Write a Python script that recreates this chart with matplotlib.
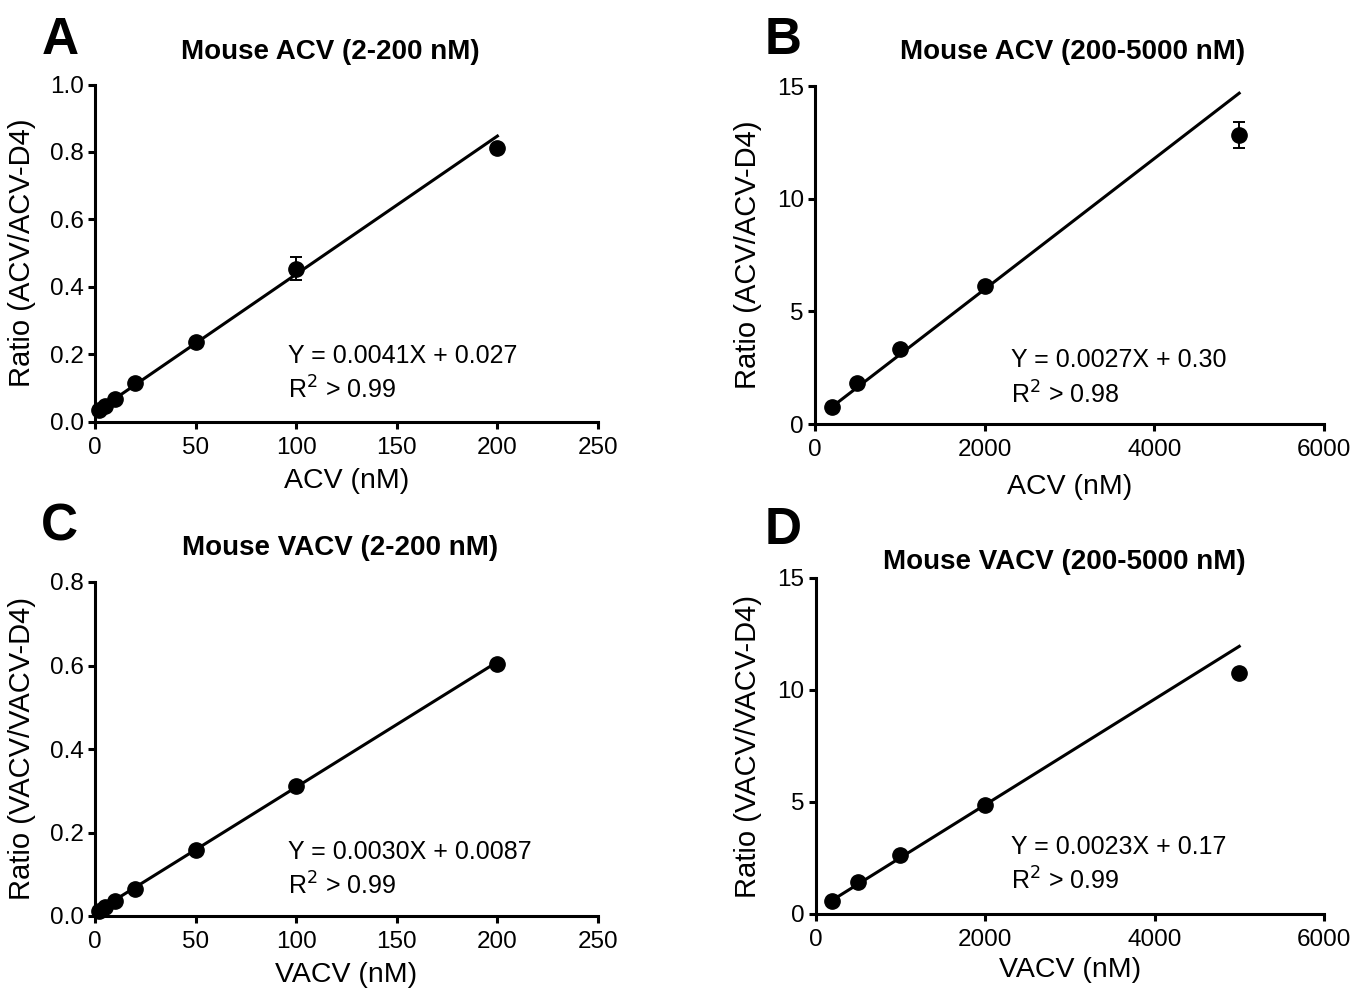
import matplotlib
matplotlib.use("Agg")
import matplotlib.pyplot as plt
import numpy as np

# Lettertype (Arial-metriek)
plt.rcParams['font.family'] = ['Liberation Sans', 'DejaVu Sans']

# Data: lage concentraties (2-200 nM)
conc_low = [2, 5, 10, 20, 50, 100, 200]
acv_low = [0.034, 0.046, 0.068, 0.115, 0.235, 0.454, 0.812]
acv_low_err = [0, 0, 0, 0, 0, 0.035, 0]
vacv_low = [0.012, 0.022, 0.036, 0.065, 0.158, 0.311, 0.604]

# Data: hoge concentraties (200-5000 nM)
conc_high = [200, 500, 1000, 2000, 5000]
acv_high = [0.76, 1.80, 3.32, 6.13, 12.83]
acv_high_err = [0, 0, 0, 0, 0.59]
vacv_high = [0.59, 1.41, 2.64, 4.88, 10.75]

# Regressielijnen zoals getekend (helling, intercept)
fit_a = (0.0041, 0.027)
fit_b = (0.0029, 0.18)
fit_c = (0.0030, 0.0087)
fit_d = (0.00236, 0.15)

titles = ["Mouse ACV (2-200 nM)", "Mouse ACV (200-5000 nM)",
          "Mouse VACV (2-200 nM)", "Mouse VACV (200-5000 nM)"]
letters = ["A", "B", "C", "D"]
xlabels = ["ACV (nM)", "ACV (nM)", "VACV (nM)", "VACV (nM)"]
ylabels = ["Ratio (ACV/ACV-D4)", "Ratio (ACV/ACV-D4)",
           "Ratio (VACV/VACV-D4)", "Ratio (VACV/VACV-D4)"]
equations = ["Y = 0.0041X + 0.027", "Y = 0.0027X + 0.30",
             "Y = 0.0030X + 0.0087", "Y = 0.0023X + 0.17"]
r2_labels = ["R$^2$ > 0.99", "R$^2$ > 0.98", "R$^2$ > 0.99", "R$^2$ > 0.99"]

W, H = 1353, 992
fig = plt.figure(figsize=(W / 100, H / 100), dpi=100)

# Asposities in pixels: links, rechts, boven, onder
boxes = [(95, 598, 84.5, 421.5), (815, 1324, 86, 424),
         (95, 598, 582, 916), (815.5, 1324, 578, 914)]

panels = [
    (conc_low, acv_low, acv_low_err, fit_a, (0, 250), (0, 1.0),
     np.arange(0, 251, 50), np.arange(0, 1.01, 0.2), "%.1f"),
    (conc_high, acv_high, acv_high_err, fit_b, (0, 6000), (0, 15),
     np.arange(0, 6001, 2000), np.arange(0, 16, 5), "%d"),
    (conc_low, vacv_low, None, fit_c, (0, 250), (0, 0.8),
     np.arange(0, 251, 50), np.arange(0, 0.81, 0.2), "%.1f"),
    (conc_high, vacv_high, None, fit_d, (0, 6000), (0, 15),
     np.arange(0, 6001, 2000), np.arange(0, 16, 5), "%d"),
]

# Positie van teksten (pixels)
title_pos = [(330, 52), (1073, 52), (340, 548), (1064, 562)]
letter_pos = [(60, 40), (783, 40), (59, 527), (783, 530)]
eq_pos = [(288, 356), (1011, 360), (288, 852), (1011, 847)]
r2_pos = [(288, 390), (1011, 395), (288, 886), (1011, 881)]
ylab_x = [22, 748, 22, 748]
xlab_y = [481, 487, 975, 970]

lw = 2.2
for i, (xs, ys, err, fit, xlim, ylim, xt, yt, fmt) in enumerate(panels):
    l, r, t, b = boxes[i]
    ax = fig.add_axes([l / W, 1 - b / H, (r - l) / W, (b - t) / H])

    # Regressielijn
    xf = np.array([xs[0], xs[-1]])
    ax.plot(xf, fit[0] * xf + fit[1], color='black', lw=lw, clip_on=False, zorder=2)

    # Meetpunten
    if err is not None:
        ax.errorbar(xs, ys, yerr=err, fmt='o', color='black', ms=11,
                    elinewidth=1.4, capsize=4.5, capthick=1.4, clip_on=False, zorder=3)
    else:
        ax.plot(xs, ys, 'o', color='black', ms=11, clip_on=False, zorder=3)

    ax.set_xlim(*xlim)
    ax.set_ylim(*ylim)
    ax.set_xticks(xt)
    ax.set_yticks(yt)
    ax.set_yticklabels([fmt % v for v in yt])
    ax.spines['top'].set_visible(False)
    ax.spines['right'].set_visible(False)
    ax.spines['left'].set_linewidth(lw)
    ax.spines['bottom'].set_linewidth(lw)
    ax.tick_params(direction='out', length=5, width=lw, labelsize=17.5, pad=3)
    ax.tick_params(axis='x', pad=6)

    ax.set_xlabel(xlabels[i], fontsize=20.5)
    ax.xaxis.set_label_coords(0.5, (b - xlab_y[i]) / (b - t), transform=ax.transAxes)
    ax.set_ylabel(ylabels[i], fontsize=21)
    ax.yaxis.set_label_coords((ylab_x[i] - l) / (r - l), 0.5, transform=ax.transAxes)
    ax.xaxis.label.set_va('center')
    ax.yaxis.label.set_va('center')

    fig.text(title_pos[i][0] / W, 1 - title_pos[i][1] / H, titles[i],
             fontsize=20, fontweight='bold', ha='center', va='center')
    fig.text(letter_pos[i][0] / W, 1 - letter_pos[i][1] / H, letters[i],
             fontsize=37, fontweight='bold', ha='center', va='center')
    fig.text(eq_pos[i][0] / W, 1 - eq_pos[i][1] / H, equations[i],
             fontsize=18, ha='left', va='center')
    fig.text(r2_pos[i][0] / W, 1 - r2_pos[i][1] / H, r2_labels[i],
             fontsize=18, ha='left', va='center')

fig.savefig("out.png", dpi=100)
